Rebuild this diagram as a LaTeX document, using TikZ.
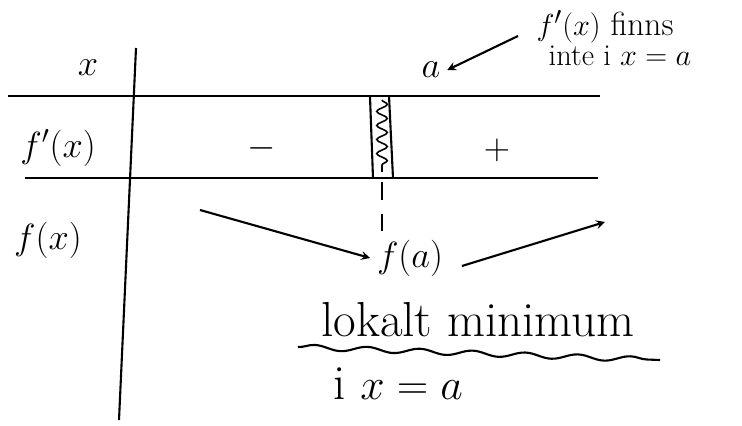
\documentclass[tikz,border=0pt]{standalone}
\usetikzlibrary{decorations.pathmorphing}
\begin{document}
\begin{tikzpicture}[x=0.02cm,y=-0.02cm,>=stealth,line width=1.2pt,
  lbl/.style={font=\huge},
  big/.style={font=\fontsize{28}{34}\selectfont},
  note/.style={font=\fontsize{19}{22}\selectfont,inner sep=0pt}]
  \useasboundingbox (0,0) rectangle (742,425);
  % rutnat
  \coordinate (vtop) at (136,48);
  \coordinate (vbot) at (119,420);
  \coordinate (h1l) at (8,96);
  \coordinate (h1r) at (600,96);
  \coordinate (h2l) at (25,178);
  \coordinate (h2r) at (598,178);
  \draw (vtop) -- (vbot);
  \draw (h1l) -- (h1r);
  \draw (h2l) -- (h2r);
  % rubriker
  \node[lbl] (x) at (88,68) {$x$};
  \node[lbl] (fp) at (58,148) {$f'(x)$};
  \node[lbl] (f) at (48,240) {$f(x)$};
  \node[lbl] (a) at (431,70) {$a$};
  % teckenrad
  \node[lbl] (minus) at (262,148) {$-$};
  \node[lbl] (plus) at (497,150) {$+$};
  \coordinate (d1t) at (370,97);
  \coordinate (d1b) at (373,178);
  \coordinate (d2t) at (389,96);
  \coordinate (d2b) at (393,178);
  \draw (d1t) -- (d1b);
  \draw (d2t) -- (d2b);
  \coordinate (wt) at (382,100);
  \coordinate (wb) at (382,172);
  \draw[line width=0.9pt,decorate,decoration={snake,amplitude=3pt,segment length=8pt}] (wt) -- (wb);
  \coordinate (st) at (382,182);
  \coordinate (sb) at (382,232);
  \draw[dashed,dash pattern=on 10pt off 8pt] (st) -- (sb);
  % kommentar
  \node[note] (finns) at (605,27) {$f'(x)$ finns};
  \node[note,font=\LARGE] (inte) at (620,56) {inte i $x=a$};
  \coordinate (pil) at (518,36);
  \draw[->] (pil) -- (a.east);
  % vaxande/avtagande
  \node[lbl] (fa) at (410,258) {$f(a)$};
  \coordinate (ned) at (200,210);
  \coordinate (upp) at (605,222);
  \draw[->] (ned) -- (fa.west);
  \draw[->] (fa.east) ++(12,8) -- (upp);
  % slutsats
  \node[big] (lok) at (478,320) {lokalt minimum};
  \coordinate (ul) at (298,347);
  \coordinate (ur) at (660,360);
  \draw[decorate,decoration={snake,amplitude=1.5pt,segment length=30pt}] (ul) -- (ur);
  \node[big] (ix) at (398,384) {i $x=a$};
\end{tikzpicture}
\end{document}
